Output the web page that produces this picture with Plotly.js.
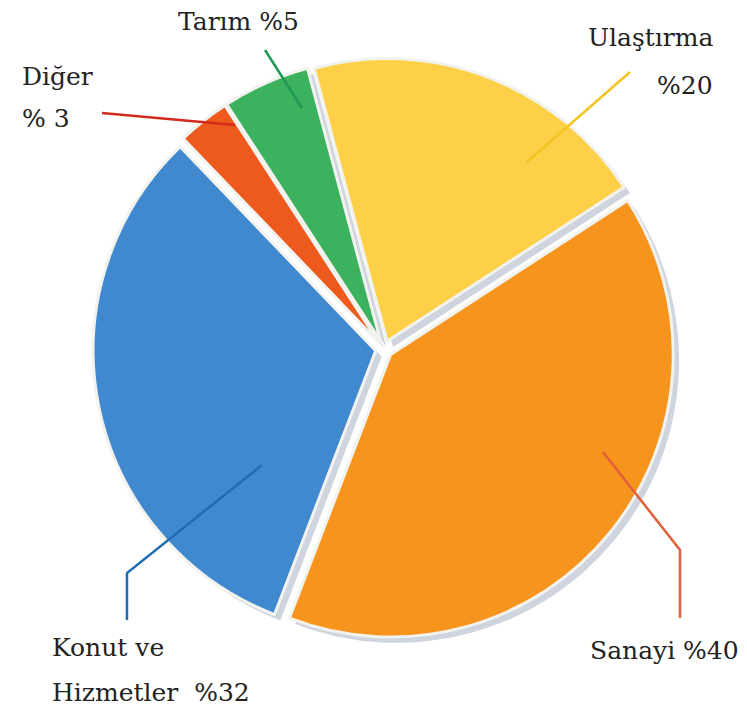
<!DOCTYPE html>
<html>
<head>
<meta charset="utf-8">
<script src="https://cdn.plot.ly/plotly-3.0.1.min.js"></script>
<style>html,body{margin:0;padding:0;background:#fff;}#chart{width:747px;height:713px;}</style>
</head>
<body>
<div id="chart"></div>
<script>
const categories = ['Ulaştırma', 'Sanayi', 'Konut ve Hizmetler', 'Diğer', 'Tarım'];
const shares = [20, 40, 32, 3, 5];
const sliceColors = ['#FDD048', '#F7941D', '#4189CF', '#EE5A1E', '#3DB25E'];
const labelLines = [
  ['Ulaştırma', '%20'],
  ['Sanayi %40'],
  ['Konut ve', 'Hizmetler  %32'],
  ['Diğer', '% 3'],
  ['Tarım %5']
];

const W = 747, H = 713;
const M = {l: 93, r: 66, t: 58, b: 67};
const PW = W - M.l - M.r, PH = H - M.t - M.b;
const px = x => (x - M.l) / PW;
const py = y => 1 - (y - M.t) / PH;
function path(pts) {
  return pts.map((p, i) => (i ? 'L' : 'M') + px(p[0]).toFixed(4) + ',' + py(p[1]).toFixed(4)).join(' ');
}

const shadow = {
  type: 'pie', labels: categories, values: shares, sort: false,
  direction: 'clockwise', rotation: -15,
  pull: 0.03, textinfo: 'none', hoverinfo: 'skip', showlegend: false,
  marker: {colors: categories.map(() => 'rgba(160,172,190,0.5)'), line: {width: 0}},
  domain: {x: [0.01, 1], y: [0, 0.99]}
};
const main = {
  type: 'pie', labels: categories, values: shares, sort: false,
  direction: 'clockwise', rotation: -15,
  pull: 0.03, textinfo: 'none', showlegend: false,
  marker: {colors: sliceColors, line: {color: '#f2f2ee', width: 3}},
  domain: {x: [0, 0.99], y: [0.01, 1]}
};

const lines = [
  {pts: [[630, 72], [527, 162]], color: '#F2C523'},
  {pts: [[603, 452], [680, 550], [680, 618]], color: '#E0603A'},
  {pts: [[262, 465], [127, 573], [127, 620]], color: '#1F6DB3'},
  {pts: [[102, 113], [235, 125]], color: '#D42A1E'},
  {pts: [[265, 50], [302, 108]], color: '#1E9A55'}
];
const shapes = lines.map(l => ({
  type: 'path', xref: 'paper', yref: 'paper', path: path(l.pts),
  line: {color: l.color, width: 2.5}
}));

const font = {family: 'DejaVu Serif', size: 25, color: '#222'};
const labelPos = [
  {x: 715, ys: [38, 85], xanchor: 'right'},
  {x: 741, ys: [650], xanchor: 'right'},
  {x: 50, ys: [648, 692], xanchor: 'left'},
  {x: 20, ys: [76, 118], xanchor: 'left'},
  {x: 238, ys: [22], xanchor: 'center'}
];
const annotations = [];
labelLines.forEach((ls, i) => {
  ls.forEach((t, j) => {
    annotations.push({
      text: t, xref: 'paper', yref: 'paper',
      x: px(labelPos[i].x), y: py(labelPos[i].ys[j]),
      xanchor: labelPos[i].xanchor, yanchor: 'middle',
      showarrow: false, font: font
    });
  });
});

Plotly.newPlot('chart', [shadow, main], {
  width: W, height: H, margin: M,
  font: {family: 'DejaVu Serif', size: 25, color: '#222'},
  paper_bgcolor: '#fff', plot_bgcolor: '#fff',
  shapes: shapes, annotations: annotations, showlegend: false
}, {displayModeBar: false, staticPlot: true});
</script>
</body>
</html>
